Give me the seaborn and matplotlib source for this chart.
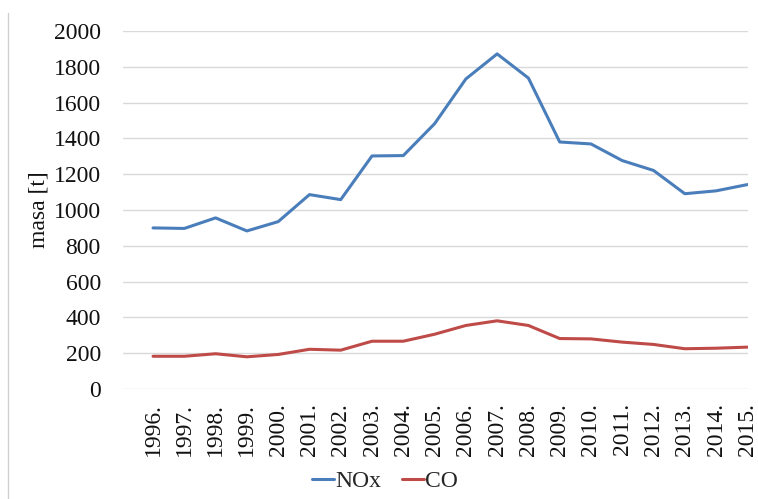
import matplotlib
matplotlib.use("Agg")
import matplotlib.pyplot as plt
from matplotlib.lines import Line2D
import seaborn as sns
import pandas as pd

years = ["1996.", "1997.", "1998.", "1999.", "2000.", "2001.", "2002.", "2003.",
         "2004.", "2005.", "2006.", "2007.", "2008.", "2009.", "2010.", "2011.",
         "2012.", "2013.", "2014.", "2015."]
nox = [900, 897, 956, 883, 935, 1086, 1058, 1302, 1304, 1482,
       1732, 1872, 1737, 1380, 1369, 1276, 1221, 1091, 1107, 1142]
co = [183, 183, 197, 180, 193, 222, 217, 267, 267, 306,
      355, 381, 355, 282, 280, 262, 249, 225, 228, 234]
series_names = ["NOx", "CO"]
yticks = [0, 200, 400, 600, 800, 1000, 1200, 1400, 1600, 1800, 2000]

df = pd.DataFrame({
    "godina": years * 2,
    "masa": nox + co,
    "serija": [series_names[0]] * len(years) + [series_names[1]] * len(years),
})

sns.set_style("white")
plt.rcParams["font.family"] = ["Liberation Serif", "DejaVu Serif"]

fig = plt.figure(figsize=(7.58, 4.99), dpi=100)
ax = fig.add_axes([0.1623, 0.2204, 0.8245, 0.7175])

palette = {"NOx": "#4A7EBB", "CO": "#BE4B48"}
sns.lineplot(data=df, x="godina", y="masa", hue="serija", palette=palette,
             linewidth=2.2, sort=False, ax=ax, legend=False)

ax.set_ylim(0, 2000)
ax.set_xlim(-0.96, len(years) - 1 + 0.02)
ax.set_yticks(yticks)
ax.set_yticklabels([str(v) for v in yticks])
ax.set_xticks(range(len(years)))
ax.set_xticklabels(years, rotation=90)
ax.tick_params(axis="y", length=0, pad=16, labelsize=17, colors="#111111")
ax.tick_params(axis="x", length=0, pad=10, labelsize=17, colors="#111111")

ax.grid(axis="y", color="#D9D9D9", linewidth=1.0)
ax.grid(axis="x", visible=False)
ax.set_axisbelow(True)
for s in ax.spines.values():
    s.set_visible(False)

ax.set_xlabel("")
ax.set_ylabel("masa [t]", fontsize=17, color="#111111")
ax.yaxis.set_label_coords(-0.118, 0.5)

handles = [Line2D([0], [0], color=palette[n], linewidth=2.2) for n in series_names]
fig.legend(handles, series_names, loc="center", bbox_to_anchor=(0.508, 0.036),
           ncol=2, frameon=False, fontsize=17, handlelength=0.95,
           handletextpad=0.05, columnspacing=0.85)

# chart frame edge on the left
fig.add_artist(Line2D([8 / 758, 8 / 758], [0, 1 - 13 / 499],
                      transform=fig.transFigure, color="#D0D0D0", linewidth=1.0))

fig.savefig("out.png", dpi=100)
